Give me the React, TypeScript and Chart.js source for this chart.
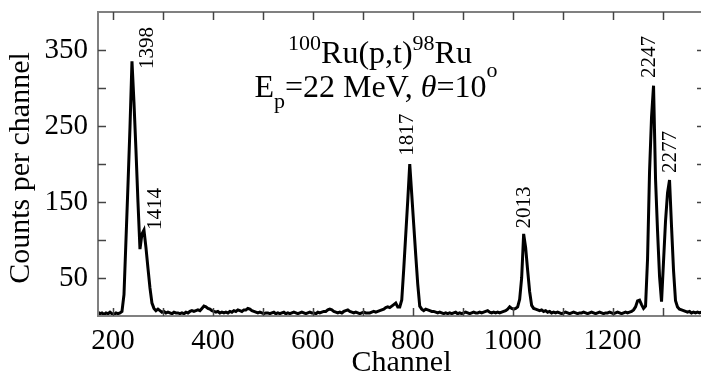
import React, { useEffect, useRef } from "react";
import { Chart, registerables } from "chart.js";

Chart.register(...registerables);

// Spectrum sampled every STEP channels, split into named segments (start channel + counts)
const STEP = 4;

const leftBaseStart = 170;
const leftBase = [5, 3, 4, 2, 4, 3, 5, 3, 2, 4, 3, 4, 6];

const peak1398Start = 222;
const peak1398 = [28, 100, 172, 248, 335, 281, 218, 150, 88, 108, 113, 90, 63, 37, 17, 10, 7];

const midBaseStart = 290;
const midBase = [
  9, 7, 5, 6, 4, 5, 4, 3, 5, 4,
  4, 3, 4, 3, 5, 4, 6, 7, 6, 7,
  8, 7, 10, 13, 12, 10, 9, 7, 6, 5,
  6, 4, 5, 4, 5, 4, 6, 5, 7, 6,
  8, 7, 6, 8, 8, 10, 9, 7, 6, 5,
  4, 5, 4, 3, 4, 4, 3, 4, 5, 3,
  4, 3, 4, 5, 3, 4, 3, 4, 5, 4,
  3, 4, 5, 4, 3, 4, 5, 4, 4, 3,
  5, 4, 5, 6, 6, 8, 9, 8, 6, 5,
  4, 5, 4, 6, 7, 8, 6, 5, 4, 5,
  4, 3, 4, 5, 4, 4, 4, 5, 6, 5,
  6, 7, 8, 9, 11, 12, 11, 13, 15, 17,
  12, 12,
];

const peak1817Start = 778;
const peak1817 = [21, 62, 107, 152, 200, 160, 120, 80, 42, 13, 9];

const base2Start = 822;
const base2 = [
  7, 9, 8, 7, 6, 6, 5, 4, 5, 4,
  3, 4, 3, 4, 3, 4, 5, 3, 4, 3,
  4, 5, 4, 3, 4, 5, 4, 4, 5, 4,
  5, 6, 7, 5, 4, 5, 4, 5, 4, 5,
  6, 7, 9, 12, 10, 9, 10,
];

const peak2013Start = 1010;
const peak2013 = [12, 22, 50, 108, 90, 60, 32, 14, 10];

const base3Start = 1046;
const base3 = [
  9, 8, 7, 8, 6, 7, 5, 6, 4, 5,
  4, 5, 4, 3, 4, 5, 4, 3, 4, 5,
  4, 3, 4, 4, 5, 4, 3, 4, 5, 4,
  3, 4, 5, 4, 3, 4, 4, 5, 4, 3,
  4, 5, 4, 3, 4, 5, 4, 5, 6, 8,
  12, 20, 21,
];

const doubletStart = 1258;
const doublet = [15, 10, 13, 75, 190, 262, 303, 180, 112, 52, 19, 72, 125, 162, 179, 118, 60, 20, 12];

const rightBaseStart = 1334;
const rightBase = [9, 8, 7, 6, 5, 6, 4, 5, 4, 5, 4, 5];

// Peak energy labels (keV) and their anchor in data coordinates
const peakLabels = ["1398", "1414", "1817", "2013", "2247", "2277"];
const peakLabelChannel = [269, 286, 790, 1024, 1274, 1316];
const peakLabelCount = [325, 113, 211, 115, 313, 188];

// Axes
const xMin = 170;
const xMax = 1385;
const yMin = 0;
const yMax = 400;
const xTickValues = [200, 300, 400, 500, 600, 700, 800, 900, 1000, 1100, 1200, 1300];
const xTickLabels = ["200", "", "400", "", "600", "", "800", "", "1000", "", "1200", ""];
const yTickValues = [50, 100, 150, 200, 250, 300, 350];
const yTickLabels = ["50", "", "150", "", "250", "", "350"];
const xTitle = "Channel";
const yTitle = "Counts per channel";

const SERIF = "'Liberation Serif', 'DejaVu Serif', serif";

function buildPoints() {
  const segs: [number, number[]][] = [
    [leftBaseStart, leftBase],
    [peak1398Start, peak1398],
    [midBaseStart, midBase],
    [peak1817Start, peak1817],
    [base2Start, base2],
    [peak2013Start, peak2013],
    [base3Start, base3],
    [doubletStart, doublet],
    [rightBaseStart, rightBase],
  ];
  const pts: { x: number; y: number }[] = [];
  segs.forEach(([start, vals]) => {
    vals.forEach((v, i) => pts.push({ x: start + i * STEP, y: v }));
  });
  pts.sort((a, b) => a.x - b.x);
  return pts;
}

const framePlugin = {
  id: "frame",
  afterDatasetsDraw(chart: any) {
    const { ctx, chartArea, scales } = chart;
    const { left, right, top, bottom } = chartArea;
    const x = scales.x;
    const y = scales.y;
    ctx.save();
    ctx.strokeStyle = "#808080";
    ctx.lineWidth = 2;
    ctx.strokeRect(left, top, right - left, bottom - top);
    ctx.strokeStyle = "#444";
    ctx.lineWidth = 1.5;
    const TL = 8;
    const seg = (a: number, b: number, c: number, d: number) => {
      ctx.beginPath();
      ctx.moveTo(a, b);
      ctx.lineTo(c, d);
      ctx.stroke();
    };
    x.ticks.forEach((t: any) => {
      const px = Math.round(x.getPixelForValue(t.value)) + 0.5;
      seg(px, bottom, px, bottom - TL);
      seg(px, top, px, top + TL);
    });
    y.ticks.forEach((t: any) => {
      const py = Math.round(y.getPixelForValue(t.value)) + 0.5;
      seg(left, py, left + TL, py);
      seg(right, py, right - TL, py);
    });
    ctx.restore();
  },
};

type Run = { t: string; size: number; dy: number; italic?: boolean };

function drawRuns(ctx: CanvasRenderingContext2D, runs: Run[], cx: number, baseY: number) {
  const fontOf = (r: Run) => `${r.italic ? "italic " : ""}${r.size}px ${SERIF}`;
  let total = 0;
  runs.forEach((r) => {
    ctx.font = fontOf(r);
    total += ctx.measureText(r.t).width;
  });
  let xx = cx - total / 2;
  ctx.textAlign = "left";
  ctx.textBaseline = "alphabetic";
  runs.forEach((r) => {
    ctx.font = fontOf(r);
    ctx.fillText(r.t, xx, baseY + r.dy);
    xx += ctx.measureText(r.t).width;
  });
}

const textPlugin = {
  id: "texts",
  afterDraw(chart: any) {
    const { ctx, chartArea, scales } = chart;
    ctx.save();
    ctx.fillStyle = "#000";
    const cx = chartArea.left + 282;
    const M = 32;
    const S = 22;
    drawRuns(
      ctx,
      [
        { t: "100", size: S, dy: -13 },
        { t: "Ru(p,t)", size: M, dy: 0 },
        { t: "98", size: S, dy: -13 },
        { t: "Ru", size: M, dy: 0 },
      ],
      cx,
      chartArea.top + 51
    );
    drawRuns(
      ctx,
      [
        { t: "E", size: M, dy: 0 },
        { t: "p", size: S, dy: 11 },
        { t: "=22 MeV, ", size: M, dy: 0 },
        { t: "θ", size: M, dy: 0, italic: true },
        { t: "=10", size: M, dy: 0 },
        { t: "o", size: S, dy: -20 },
      ],
      cx - 4,
      chartArea.top + 85
    );
    // y-axis title
    ctx.save();
    ctx.font = `30px ${SERIF}`;
    ctx.textAlign = "center";
    ctx.textBaseline = "middle";
    ctx.translate(21, (chartArea.top + chartArea.bottom) / 2 + 4);
    ctx.rotate(-Math.PI / 2);
    ctx.fillText(yTitle, 0, 0);
    ctx.restore();
    // rotated peak labels
    ctx.font = `21px ${SERIF}`;
    ctx.textAlign = "left";
    ctx.textBaseline = "middle";
    peakLabels.forEach((lab, i) => {
      const px = scales.x.getPixelForValue(peakLabelChannel[i]);
      const py = scales.y.getPixelForValue(peakLabelCount[i]);
      ctx.save();
      ctx.translate(px, py);
      ctx.rotate(-Math.PI / 2);
      ctx.fillText(lab, 0, 0);
      ctx.restore();
    });
    ctx.restore();
  },
};

export default function App() {
  const ref = useRef<HTMLCanvasElement | null>(null);
  useEffect(() => {
    if (!ref.current) return;
    const tickFont = { family: SERIF, size: 29 };
    const titleFont = { family: SERIF, size: 30, lineHeight: 1.0 };
    const chart = new Chart(ref.current, {
      type: "line",
      data: {
        datasets: [
          {
            data: buildPoints(),
            borderColor: "#000",
            borderWidth: 3,
            pointRadius: 0,
            tension: 0,
            fill: false,
          },
        ],
      },
      options: {
        animation: false,
        responsive: false,
        devicePixelRatio: 1,
        layout: { padding: { top: 12, right: 7, left: 0, bottom: 0 } },
        plugins: {
          legend: { display: false },
          tooltip: { enabled: false },
          title: { display: false },
        },
        scales: {
          x: {
            type: "linear",
            min: xMin,
            max: xMax,
            grid: { display: false, drawTicks: false },
            border: { display: false },
            afterBuildTicks: (s: any) => {
              s.ticks = xTickValues.map((v) => ({ value: v }));
            },
            ticks: {
              autoSkip: false,
              maxRotation: 0,
              padding: 8,
              color: "#000",
              font: tickFont,
              callback: (v: any) => {
                const i = xTickValues.indexOf(Number(v));
                return i >= 0 ? xTickLabels[i] : "";
              },
            },
            title: { display: true, text: xTitle, color: "#000", font: titleFont, padding: 0 },
            afterFit: (s: any) => {
              s.height = 62;
              s.paddingLeft = 0;
              s.paddingRight = 0;
            },
          },
          y: {
            type: "linear",
            min: yMin,
            max: yMax,
            grid: { display: false, drawTicks: false },
            border: { display: false },
            afterBuildTicks: (s: any) => {
              s.ticks = yTickValues.map((v) => ({ value: v }));
            },
            ticks: {
              autoSkip: false,
              padding: 10,
              color: "#000",
              font: tickFont,
              callback: (v: any) => {
                const i = yTickValues.indexOf(Number(v));
                return i >= 0 ? yTickLabels[i] : "";
              },
            },
            title: { display: false },
            afterFit: (s: any) => {
              s.width = 98;
              s.paddingTop = 0;
              s.paddingBottom = 0;
            },
          },
        },
      },
      plugins: [framePlugin, textPlugin],
    });
    return () => chart.destroy();
  }, []);
  return (
    <div
      style={{
        position: "absolute",
        left: 0,
        top: 0,
        width: 701,
        height: 378,
        overflow: "hidden",
        background: "#fff",
      }}
    >
      <canvas ref={ref} width={712} height={378} style={{ display: "block", width: "712px", height: "378px" }} />
    </div>
  );
}
